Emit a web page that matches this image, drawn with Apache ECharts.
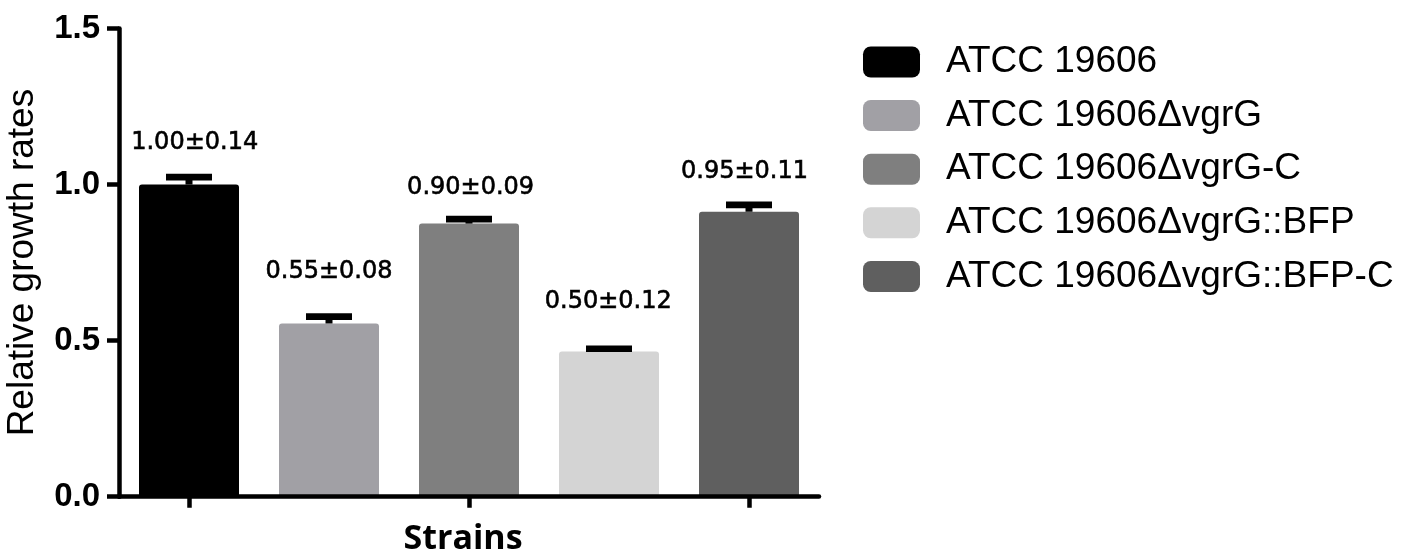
<!DOCTYPE html>
<html>
<head>
<meta charset="utf-8">
<script src="https://cdn.jsdelivr.net/npm/echarts@6/dist/echarts.min.js"></script>
<style>
html,body{margin:0;padding:0;background:#fff;}
#chart{width:1426px;height:555px;}
</style>
</head>
<body>
<div id="chart"></div>
<script>
// ---- data ----
const categories = ['ATCC 19606', 'ATCC 19606\u0394vgrG', 'ATCC 19606\u0394vgrG-C', 'ATCC 19606\u0394vgrG::BFP', 'ATCC 19606\u0394vgrG::BFP-C'];
const means = [1.00, 0.555, 0.875, 0.465, 0.913];
const errors = [0.024, 0.022, 0.014, 0.009, 0.022];
const valueLabels = ['1.00\u00b10.14', '0.55\u00b10.08', '0.90\u00b10.09', '0.50\u00b10.12', '0.95\u00b10.11'];
const yTicks = [0, 0.5, 1.0, 1.5];
const xTitle = 'Strains';
const yTitle = 'Relative growth rates';

// ---- styles ----
const colors = ['#000000', '#a1a0a5', '#7f7f7f', '#d4d4d4', '#5f5f5f'];
const labelRise = [41.5, 51.5, 36, 50, 40];
const labelShift = [5.7, 0, 1.6, -0.7, -4.5];

const chart = echarts.init(document.getElementById('chart'));

const barSeries = categories.map((name, i) => ({
  name: name,
  type: 'bar',
  data: categories.map((c, j) => (j === i ? means[i] : '-')),
  barWidth: 100,
  barGap: '-100%',
  itemStyle: { color: colors[i], borderRadius: [3, 3, 0, 0] },
  z: 2
}));

const errSeries = {
  type: 'custom',
  name: 'err',
  data: means.map((m, i) => [i, m, errors[i]]),
  encode: { x: 0, y: 1 },
  z: 3,
  silent: true,
  renderItem: function (params, api) {
    const i = api.value(0);
    const m = api.value(1);
    const e = api.value(2);
    const top = api.coord([i, m]);
    const cap = api.coord([i, m + e]);
    const x = top[0];
    return {
      type: 'group',
      children: [
        { type: 'line', shape: { x1: x, y1: top[1], x2: x, y2: cap[1] }, style: { stroke: '#000', lineWidth: 7 } },
        { type: 'line', shape: { x1: x - 23, y1: cap[1], x2: x + 23, y2: cap[1] }, style: { stroke: '#000', lineWidth: 6.7 } },
        { type: 'text', x: x + labelShift[i], y: top[1] - labelRise[i],
          style: { text: valueLabels[i], fill: '#000', font: '24px "DejaVu Sans"', textAlign: 'center', textVerticalAlign: 'middle', stroke: '#000', lineWidth: 0.6 } }
      ]
    };
  }
};

chart.setOption({
  animation: false,
  backgroundColor: '#ffffff',
  grid: { left: 119, top: 28.5, width: 700, height: 468.2, containLabel: false, outerBoundsMode: 'none' },
  legend: {
    data: categories,
    orient: 'vertical',
    left: 863,
    top: 43.5,
    padding: 0,
    itemWidth: 57,
    itemHeight: 31,
    itemGap: 16.6,
    icon: 'roundRect',
    selectedMode: false,
    textStyle: { fontFamily: '"Liberation Sans", Arial, sans-serif', fontSize: 37, lineHeight: 37, color: '#000', padding: [0, 0, 0, 21] }
  },
  xAxis: {
    type: 'category',
    data: categories,
    z: 5,
    name: xTitle,
    nameLocation: 'middle',
    nameGap: 26,
    nameTextStyle: { fontFamily: '"Open Sans", sans-serif', fontWeight: 'bold', fontSize: 34, color: '#000', padding: [0, 12, 0, 0] },
    axisLine: { lineStyle: { color: '#000', width: 4.5 } },
    axisTick: { show: true, alignWithLabel: true, length: 11, lineStyle: { color: '#000', width: 4.5 } },
    axisLabel: { show: false },
    splitLine: { show: false }
  },
  yAxis: {
    type: 'value',
    min: yTicks[0],
    max: yTicks[yTicks.length - 1],
    interval: yTicks[1] - yTicks[0],
    z: 5,
    name: yTitle,
    nameLocation: 'middle',
    nameRotate: 90,
    nameGap: 78,
    nameTextStyle: { fontFamily: '"Liberation Sans", Arial, sans-serif', fontSize: 37, color: '#000' },
    axisLine: { show: true, lineStyle: { color: '#000', width: 4.5 } },
    axisTick: { show: true, length: 12, lineStyle: { color: '#000', width: 4.5 } },
    axisLabel: { formatter: v => v.toFixed(1), fontFamily: '"Liberation Sans", Arial, sans-serif', fontWeight: 'bold', fontSize: 33, color: '#000', margin: 19 },
    splitLine: { show: false }
  },
  series: barSeries.concat([errSeries])
});
</script>
</body>
</html>
